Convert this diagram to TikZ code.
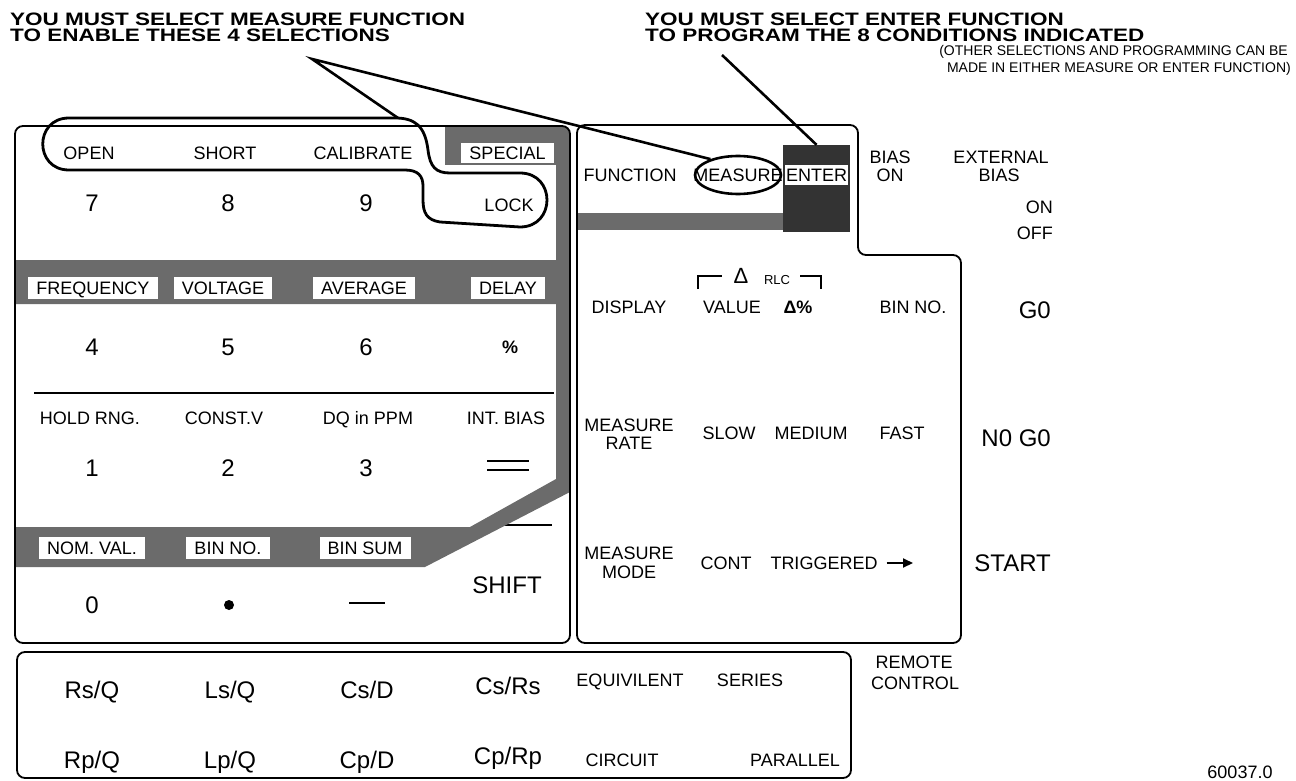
\documentclass[tikz,border=0pt]{standalone}
\usepackage{fontspec}
\setmainfont{Liberation Sans}
\newfontfamily\widefont[FakeStretch=1.25]{Liberation Sans}
\usetikzlibrary{shapes.geometric,arrows.meta}

\tikzset{
  panel/.style={draw,line width=1.8pt,rounded corners=8pt},
  shade/.style={fill=black!58},
  darkshade/.style={fill=black!80},
  lab/.style={font=\fontsize{18}{18}\selectfont,inner sep=0pt,text height=12.9pt,text depth=0pt},
  labbox/.style={lab,fill=white,inner xsep=8pt,inner ysep=5pt},
  keycap/.style={font=\fontsize{24}{24}\selectfont,inner sep=0pt,text height=17.2pt,text depth=0pt},
  headline/.style={font=\widefont\bfseries\fontsize{18}{18}\selectfont,inner sep=0pt,text height=12.9pt,text depth=0pt,anchor=west},
  remark/.style={font=\fontsize{14}{14}\selectfont,inner sep=0pt,text height=10pt,text depth=0pt,anchor=east},
  callout/.style={line width=2.6pt},
}

\begin{document}
\begin{tikzpicture}[x=1pt,y=-1pt]
\useasboundingbox (0,0) rectangle (1296,781);

%%%%%%%%%%%%% headlines
\node[headline] (hl1) at (10,19) {YOU MUST SELECT MEASURE FUNCTION};
\node[headline] (hl2) at (10,35) {TO ENABLE THESE 4 SELECTIONS};
\node[headline] (hr1) at (645,19) {YOU MUST SELECT ENTER FUNCTION};
\node[headline] (hr2) at (645,35) {TO PROGRAM THE 8 CONDITIONS INDICATED};
\node[remark] (rm1) at (1288,51) {(OTHER SELECTIONS AND PROGRAMMING CAN BE};
\node[remark] (rm2) at (1291,68) {MADE IN EITHER MEASURE OR ENTER FUNCTION)};

%%%%%%%%%%%%% left panel, shaded strip
\draw[line width=1.5pt] (480,525) -- (552,525);
\begin{scope}
\clip[rounded corners=8pt] (15,126) rectangle (570,643);
\fill[shade] (445,125) -- (570,125) -- (570,492) -- (425,567) -- (15,567) -- (15,527) -- (470,527) -- (556,479) -- (556,304) -- (15,304) -- (15,260) -- (556,260) -- (556,165) -- (445,165) -- cycle;
\end{scope}
\draw[panel] (15,126) rectangle (570,643);

\node[lab] (open) at (89,153) {OPEN};\node[lab] (short) at (225,153) {SHORT};\node[lab] (calib) at (363,153) {CALIBRATE};
\node[labbox,inner ysep=3.5pt,minimum width=89pt] (special) at (507.5,153) {SPECIAL};
\node[keycap] (k7) at (92,203) {7};\node[keycap] (k8) at (228,203) {8};\node[keycap] (k9) at (366,203) {9};\node[lab] (lock) at (509,205) {LOCK};

\node[labbox] (freq) at (93,288) {FREQUENCY};\node[labbox] (volt) at (223,288) {VOLTAGE};
\node[labbox] (aver) at (364,288) {AVERAGE};\node[labbox] (delay) at (508,288) {DELAY};
\node[keycap] (k4) at (92,347) {4};\node[keycap] (k5) at (228,347) {5};\node[keycap] (k6) at (366,347) {6};\node[lab,font=\bfseries\fontsize{18}{18}\selectfont] (pct) at (510,347) {\%};

\draw[line width=1.8pt] (34,393) -- (554,393);
\node[lab] (hold) at (90,418) {HOLD RNG.};\node[lab] (const) at (224,418) {CONST.V};
\node[lab] (dq) at (368,418) {DQ in PPM};\node[lab] (intb) at (506,418) {INT. BIAS};
\node[keycap] (k1) at (92,468) {1};\node[keycap] (k2) at (228,468) {2};\node[keycap] (k3) at (366,468) {3};
\draw[line width=1.8pt] (487,461) -- (529,461);\draw[line width=1.8pt] (487,470) -- (529,470);

\node[labbox] (nomval) at (92,548) {NOM. VAL.};\node[labbox] (binno) at (228,548) {BIN NO.};\node[labbox] (binsum) at (365,548) {BIN SUM};
\node[keycap] (k0) at (92,605) {0};
\node[circle,fill,inner sep=0pt,minimum size=10pt] (kdot) at (229,605) {};
\node[inner sep=0pt] (kminus) at (367,603) {\rule{36pt}{2.5pt}};
\node[keycap] (shift) at (507,585) {SHIFT};

%%%%%%%%%%%%% right panel
\fill[shade] (577,213) rectangle (783,230);
\node[darkshade,inner sep=0pt,minimum width=67pt,minimum height=87pt] (enterbox) at (816.5,188.5) {};
\node[labbox,inner xsep=0pt,inner ysep=3.5pt,minimum width=63pt] (enter) at (816.5,175) {ENTER};
\draw[panel] (577,125) -- (858,125) -- (858,255) -- (961,255) -- (961,643) -- (577,643) -- cycle;

\node[lab] (func) at (630,175) {FUNCTION};
\node[lab] (measlbl) at (738,175) {MEASURE};
\node[draw,ellipse,line width=2.6pt,inner sep=0pt,minimum width=86pt,minimum height=38pt] (meas) at (738,175) {};
\node[lab] (bias1) at (890,157) {BIAS};\node[lab] (on1) at (890,175) {ON};
\node[lab] (ext) at (1001,157) {EXTERNAL};\node[lab] (bias2) at (999,175) {BIAS};
\node[lab,anchor=east] (on2) at (1053,207) {ON};\node[lab,anchor=east] (off) at (1053,233) {OFF};

\draw[line width=1.5pt] (698,289) -- (698,276) -- (722,276);\draw[line width=1.5pt] (800,276) -- (821,276) -- (821,289);
\node[inner sep=0pt,font=\fontsize{22}{22}\selectfont] (delta) at (741,276) {Δ};
\node[inner sep=0pt,font=\fontsize{13}{13}\selectfont,text height=9.3pt,text depth=0pt] (rlc) at (777,280) {RLC};
\node[lab] (disp) at (629,307) {DISPLAY};\node[lab] (value) at (732,307) {VALUE};
\node[lab,font=\bfseries\fontsize{18}{18}\selectfont] (dpct) at (798,307) {Δ\%};\node[lab] (binno2) at (913,307) {BIN NO.};
\node[keycap,anchor=east] (go) at (1051,310) {G0};

\node[lab] (mrate1) at (629,425) {MEASURE};\node[lab] (mrate2) at (629,443) {RATE};
\node[lab] (slow) at (729,433) {SLOW};\node[lab] (medium) at (811,433) {MEDIUM};\node[lab] (fast) at (902,433) {FAST};
\node[keycap,anchor=east] (nogo) at (1051,438) {N0 G0};

\node[lab] (mmode1) at (629,553) {MEASURE};\node[lab] (mmode2) at (629,572) {MODE};
\node[lab] (cont) at (726,563) {CONT};\node[lab] (trig) at (824,563) {TRIGGERED};
\coordinate (trigtip) at (913,563);
\draw[line width=2pt,-{Triangle[length=10pt,width=9pt]}] ([xshift=9pt]trig.east) -- (trigtip);
\node[keycap,anchor=east] (start) at (1051,563) {START};

%%%%%%%%%%%%% lower panel
\draw[panel] (17,652) rectangle (851,778);
\node[keycap] (rsq) at (92,690) {Rs/Q};\node[keycap] (lsq) at (230,690) {Ls/Q};\node[keycap] (csd) at (367,690) {Cs/D};\node[keycap] (csrs) at (508,686) {Cs/Rs};
\node[keycap] (rpq) at (92,760) {Rp/Q};\node[keycap] (lpq) at (230,760) {Lp/Q};\node[keycap] (cpd) at (367,760) {Cp/D};\node[keycap] (cprp) at (508,756) {Cp/Rp};
\node[lab] (equiv) at (630,680) {EQUIVILENT};\node[lab] (series) at (750,680) {SERIES};
\node[lab] (circ) at (622,760) {CIRCUIT};\node[lab] (paral) at (795,760) {PARALLEL};
\node[lab] (remote) at (914,662) {REMOTE};\node[lab] (control) at (915,683) {CONTROL};
\node[lab] (fignum) at (1240,772) {60037.0};

%%%%%%%%%%%%% lasso and callouts
\draw[line width=2.8pt] (69,118) -- (395,118) .. controls (415,118) and (425,126) .. (428,150) .. controls (430,167) and (436,173) .. (450,173) -- (520,173) .. controls (556,173) and (556,227) .. (520,227) -- (440,222) .. controls (427,220) and (423,213) .. (423,200) -- (423,186) .. controls (423,176) and (418,170) .. (405,170) -- (69,170) .. controls (34,170) and (34,118) .. (69,118) -- cycle;
\coordinate (apexl) at (312,59);\coordinate (lassotop) at (398,118);\coordinate (apexr) at (722,55);
\draw[callout] (lassotop) -- (apexl) -- (meas.150);
\draw[callout] (apexr) -- (enterbox.north);

\end{tikzpicture}
\end{document}
